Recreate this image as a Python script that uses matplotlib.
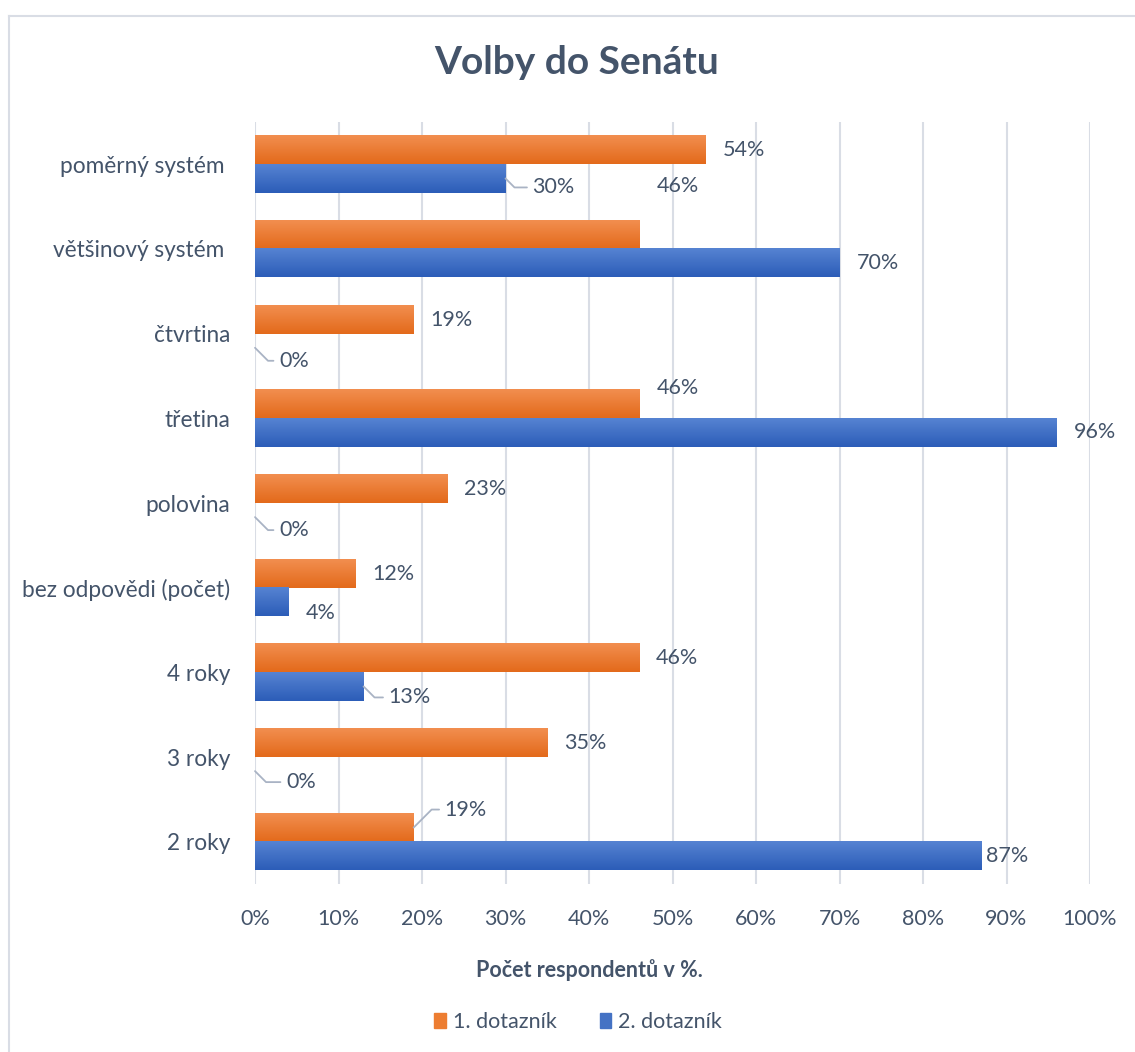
import numpy as np
import matplotlib
matplotlib.use("Agg")
import matplotlib.pyplot as plt
from matplotlib.colors import to_rgb

# data
categories = ["poměrný systém ", "většinový systém ", "čtvrtina", "třetina", "polovina",
              "bez odpovědi (počet)", "4 roky", "3 roky", "2 roky"]
dotaznik_1 = [54, 46, 19, 46, 23, 12, 46, 35, 19]
dotaznik_2 = [30, 70, 0, 96, 0, 4, 13, 0, 87]
series_names = ["1. dotazník", "2. dotazník"]

# label offsets in pixels (dx, dy) and whether a leader line is drawn
off_1 = [(17, 0), (18, 49), (17, 0), (18, 16), (17, 0), (17, 0), (17, 0), (17, 0), (31, 18)]
lead_1 = [False, False, False, False, False, False, False, False, True]
off_2 = [(27, -9), (17, 0), (24, -13), (17, 0), (24, -13), (17, -11), (25, -11), (31, -11), (5, 0)]
lead_2 = [True, False, True, False, True, False, True, True, False]

txt = "#44546A"
grid_c = "#D9DDE5"
lead_c = "#A9B3C4"
plt.rcParams["font.family"] = ["Lato", "DejaVu Sans"]

fig = plt.figure(figsize=(11.35, 10.52), dpi=100)
ax = fig.add_axes([255 / 1135, 1 - 884 / 1052, 835 / 1135, 762 / 1052])

# chart frame
fig.add_artist(plt.Line2D([9 / 1135, 9 / 1135], [0, 1 - 16 / 1052], transform=fig.transFigure,
                          color="#D9DDE5", lw=1.5))
fig.add_artist(plt.Line2D([9 / 1135, 1], [1 - 16 / 1052, 1 - 16 / 1052], transform=fig.transFigure,
                          color="#D9DDE5", lw=1.5))

n = len(categories)
y = np.arange(n)
h = 1 / 3
bars1 = ax.barh(y - h / 2, dotaznik_1, height=h, color="#ED7D31")
bars2 = ax.barh(y + h / 2, dotaznik_2, height=h, color="#4472C4")


def gradient(bars, top, bottom):
    grad = np.linspace(np.array([to_rgb(top)]), np.array([to_rgb(bottom)]), 32)
    for b in bars:
        x0, y0 = b.get_x(), b.get_y()
        w, hh = b.get_width(), b.get_height()
        b.set_visible(False)
        if w <= 0:
            continue
        ax.imshow(grad, extent=[x0, x0 + w, y0 + hh, y0], origin="upper", aspect="auto",
                  interpolation="bilinear", zorder=2)


gradient(bars1, "#F28E4F", "#E36A1B")
gradient(bars2, "#5683D2", "#2C5DB8")
ax.set_xlim(0, 100)
ax.set_ylim(n - 0.5, -0.5)

# labels
for vals, offs, leads, dy_bar in [(dotaznik_1, off_1, lead_1, -h / 2), (dotaznik_2, off_2, lead_2, h / 2)]:
    for i, v in enumerate(vals):
        dx, dy = offs[i]
        kw = {}
        if leads[i]:
            ang = 45 if dy > 0 else -45
            kw["arrowprops"] = dict(arrowstyle="-", color=lead_c, lw=1.3, shrinkA=2, shrinkB=0,
                                    connectionstyle=f"angle,angleA=0,angleB={ang + 180},rad=0")
        ax.annotate(f"{v}%", xy=(v, i + dy_bar), xytext=(dx, dy), textcoords="offset pixels",
                    ha="left", va="center", fontsize=15.5, color=txt, zorder=4, **kw)

ax.set_yticks(y)
ax.set_yticklabels(categories, fontsize=16.3, color=txt)
ax.set_xticks(np.arange(0, 101, 10))
ax.set_xticklabels([f"{t}%" for t in range(0, 101, 10)], fontsize=15.5, color=txt)
ax.tick_params(axis="y", length=0, pad=18)
ax.tick_params(axis="x", length=0, pad=18)
ax.grid(axis="x", color=grid_c, lw=1.5, zorder=0)
ax.set_axisbelow(True)
for s in ax.spines.values():
    s.set_visible(False)

fig.text(577 / 1135, 1 - 63 / 1052, "Volby do Senátu", ha="center", va="center",
         fontsize=28, fontweight="bold", color=txt)
fig.text(589 / 1135, 1 - 970 / 1052, "Počet respondentů v %.", ha="center", va="center",
         fontsize=15.5, fontweight="bold", color=txt)

handles = [plt.Rectangle((0, 0), 1, 1, color="#ED7D31"), plt.Rectangle((0, 0), 1, 1, color="#4472C4")]
fig.legend(handles, series_names, loc="center", bbox_to_anchor=(578 / 1135, 1 - 1022 / 1052), ncol=2,
           frameon=False, fontsize=15.5, labelcolor=txt, handlelength=0.55, handleheight=0.7,
           handletextpad=0.3, columnspacing=2.0)

fig.savefig("out.png", dpi=100)
